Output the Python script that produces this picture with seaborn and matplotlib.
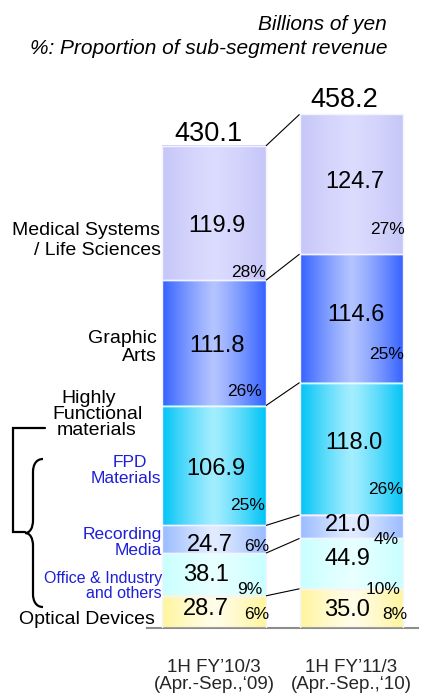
import numpy as np
import pandas as pd
import matplotlib
matplotlib.use("Agg")
import matplotlib.pyplot as plt
from matplotlib.colors import LinearSegmentedColormap
from matplotlib.patches import Rectangle, PathPatch
from matplotlib.path import Path
from matplotlib.transforms import Affine2D
import seaborn as sns

# ---- data -------------------------------------------------------------
periods = ["1H FY’10/3\n(Apr.-Sep.,‘09)", "1H FY’11/3\n(Apr.-Sep.,‘10)"]
segments = ["Optical Devices", "Office & Industry and others", "Recording Media",
            "FPD Materials", "Graphic Arts", "Medical Systems / Life Sciences"]
revenue_fy10 = [28.7, 38.1, 24.7, 106.9, 111.8, 119.9]
revenue_fy11 = [35.0, 44.9, 21.0, 118.0, 114.6, 124.7]
share_fy10 = [6, 9, 6, 25, 26, 28]
share_fy11 = [8, 10, 4, 26, 25, 27]
totals = [430.1, 458.2]

# ---- styling ----------------------------------------------------------
edge_colors = ["#fff59c", "#c8ffff", "#99bbff", "#00c4f5", "#3462ff", "#c6c6f8"]
center_colors = ["#fffde8", "#e8ffff", "#e2ecff", "#a4eeff", "#b4c4ff", "#dcdcff"]
BLUE = "#1f1fd8"

# label nudges in pixels (dx right, dy down), one row per period,
# ordered bottom -> top like the segments
value_dx = [[-8, -8, -4.5, 2, 3, 3], [-4, -4, -3.5, 2.5, 4.5, 3]]
value_dy = [[-5, -1.5, 3, 1.5, 1, 10], [-1, -7, -4, -8, -6, -5]]
share_dx = [[3, -4, 3, -1, -4, 0], [4, -3, -5, -1, 1, 1]]
share_dy = [[-15, -8, -8, -21.4, -15.6, -9.6], [-15, -1, -1, -27, -29.6, -26.6]]
total_dx = [-5.5, -7]
total_dy = [-15, -17.4]

W, H, DPI = 422, 695, 100
BASE_PX = 628          # pixel row of the zero line
PX_PER_UNIT = 1.121    # vertical pixels per billion yen
CAT_PX = 137.5         # pixels between the two bar centres
X0_PX = 214            # pixel column of the first bar centre
BAR_WIDTH = 0.756

sns.set_style("white")
plt.rcParams["font.family"] = ["Liberation Sans", "DejaVu Sans"]

df = pd.DataFrame({
    "period": np.repeat(periods, len(segments)),
    "segment": segments * 2,
    "value": revenue_fy10 + revenue_fy11,
    "share": share_fy10 + share_fy11,
})
df["top"] = df.groupby("period", sort=False)["value"].cumsum()
df["bottom"] = df["top"] - df["value"]

fig = plt.figure(figsize=(W / DPI, H / DPI), dpi=DPI)
fig.patch.set_facecolor("white")
ax = fig.add_axes([0, (H - BASE_PX) / H, 1, BASE_PX / H])

# pixel coordinates measured from the top-left corner of the canvas
PX = Affine2D().scale(1, -1).translate(0, H)

# stacked bars: cumulative heights drawn from the tallest down
bar_geom = {}
for i in reversed(range(len(segments))):
    seg = segments[i]
    sub = df[df["segment"] == seg].set_index("period").loc[periods].reset_index()
    n0 = len(ax.patches)
    sns.barplot(data=sub, x="period", y="top", order=periods, color=edge_colors[i],
                saturation=1, width=BAR_WIDTH, errorbar=None, ax=ax)
    cmap = LinearSegmentedColormap.from_list(seg, [center_colors[i], edge_colors[i]])
    grad = np.abs(np.linspace(-1, 1, 256))[None, :] ** 1.2
    for j, (patch, (_, row)) in enumerate(zip(ax.patches[n0:], sub.iterrows())):
        x0, w = patch.get_x(), patch.get_width()
        bar_geom[j] = (x0, x0 + w)
        ax.imshow(grad, extent=[x0, x0 + w, row["bottom"], row["top"]], cmap=cmap,
                  vmin=0, vmax=1, aspect="auto", interpolation="bicubic", zorder=2)
        ax.add_patch(Rectangle((x0, row["bottom"]), w, row["value"], facecolor="none",
                               edgecolor="#f4f4ff", lw=1.0, zorder=3))

# connectors between matching segment boundaries
tops = [df[df["period"] == p]["top"].to_numpy() for p in periods]
for k in range(len(segments)):
    ax.plot([bar_geom[0][1], bar_geom[1][0]], [tops[0][k], tops[1][k]],
            color="black", lw=0.8, zorder=4, solid_capstyle="butt")

def bar_text(x, y, s, fs, dx=0, dy=0, ha="center"):
    """Text whose digit centre sits dx/dy pixels from a data point."""
    fs_px = fs * DPI / 72
    ax.annotate(s, xy=(x, y), xytext=(dx * 72 / DPI, -(dy + 0.358 * fs_px) * 72 / DPI),
                textcoords="offset points", ha=ha, va="baseline", fontsize=fs,
                color="black", zorder=5, annotation_clip=False)

def px_text(xp, yp, s, fs, ha="right", color="black", style="normal"):
    """Text whose capital-letter centre sits at pixel (xp, yp)."""
    fs_px = fs * DPI / 72
    ax.text(xp, yp + 0.358 * fs_px, s, transform=PX, ha=ha, va="baseline",
            fontsize=fs, color=color, style=style, zorder=5, clip_on=False)

for j, p in enumerate(periods):
    x0, x1 = bar_geom[j]
    xc = (x0 + x1) / 2
    rows = df[df["period"] == p].reset_index(drop=True)
    for i, row in rows.iterrows():
        mid = (row["bottom"] + row["top"]) / 2
        bar_text(xc, mid, f"{row['value']:.1f}", 17, value_dx[j][i], value_dy[j][i])
        bar_text(x1, row["bottom"], f"{row['share']}%", 12.5,
                 share_dx[j][i], share_dy[j][i], ha="right")
    bar_text(xc, totals[j], f"{totals[j]:.1f}", 19.5, total_dx[j], total_dy[j])

# headline notes
px_text(387, 23, "Billions of yen", 15, style="italic")
px_text(387, 47, "%: Proportion of sub-segment revenue", 15, style="italic")

# sub-segment names on the left
for s, xp, yp, ha in [("Medical Systems", 160.5, 228, "right"),
                      ("/ Life Sciences", 160.5, 248, "right"),
                      ("Graphic", 157, 336, "right"), ("Arts", 157, 354, "right"),
                      ("Highly", 89, 396, "center"), ("Functional", 97, 412, "center"),
                      ("materials", 97, 428, "center"),
                      ("Optical Devices", 155, 617, "right")]:
    px_text(xp, yp, s, 14, ha=ha)
for s, xp, yp, ha, fs in [("FPD", 129.5, 461, "center", 12.5),
                          ("Materials", 125.5, 477, "center", 12.5),
                          ("Recording", 162, 533, "right", 12.5),
                          ("Media", 162, 549, "right", 12.5),
                          ("Office & Industry", 162, 577, "right", 11.5),
                          ("and others", 162, 592, "right", 11.5)]:
    px_text(xp, yp, s, fs, ha=ha, color=BLUE)

# square bracket for the Highly Functional materials group
ax.plot([45, 13, 13, 25], [428, 428, 532, 532], transform=PX, color="black",
        lw=1.6, solid_joinstyle="miter", clip_on=False, zorder=5)
# curly brace spanning its four sub-segments
brace = Path([(43, 459), (36, 459), (33, 465), (33, 472), (33, 520),
              (33, 528), (30, 533), (25, 533),
              (30, 533), (33, 538), (33, 546), (33, 594),
              (33, 601), (36, 607), (43, 607)],
             [Path.MOVETO, Path.CURVE4, Path.CURVE4, Path.CURVE4, Path.LINETO,
              Path.CURVE4, Path.CURVE4, Path.CURVE4,
              Path.CURVE4, Path.CURVE4, Path.CURVE4, Path.LINETO,
              Path.CURVE4, Path.CURVE4, Path.CURVE4])
ax.add_patch(PathPatch(brace, transform=PX, facecolor="none", edgecolor="black",
                       lw=1.6, clip_on=False, zorder=5))

# axes frame: only a grey baseline under the bars
ax.set_xlim(-X0_PX / CAT_PX, (W - X0_PX) / CAT_PX)
ax.set_ylim(0, BASE_PX / PX_PER_UNIT)
for side in ["left", "right", "top"]:
    ax.spines[side].set_visible(False)
ax.spines["bottom"].set_color("#8c8c8c")
ax.spines["bottom"].set_linewidth(1.5)
ax.spines["bottom"].set_bounds((147 - X0_PX) / CAT_PX, (418 - X0_PX) / CAT_PX)
ax.set_yticks([])
ax.set_xticks([0, 1])
ax.set_xticklabels(periods)
ax.tick_params(axis="x", length=0, pad=22, labelsize=13.5)
plt.setp(ax.get_xticklabels(), linespacing=1.0)
ax.set_xlabel("")
ax.set_ylabel("")
ax.grid(False)
ax.set_facecolor("none")

fig.savefig("out.png", dpi=DPI)
